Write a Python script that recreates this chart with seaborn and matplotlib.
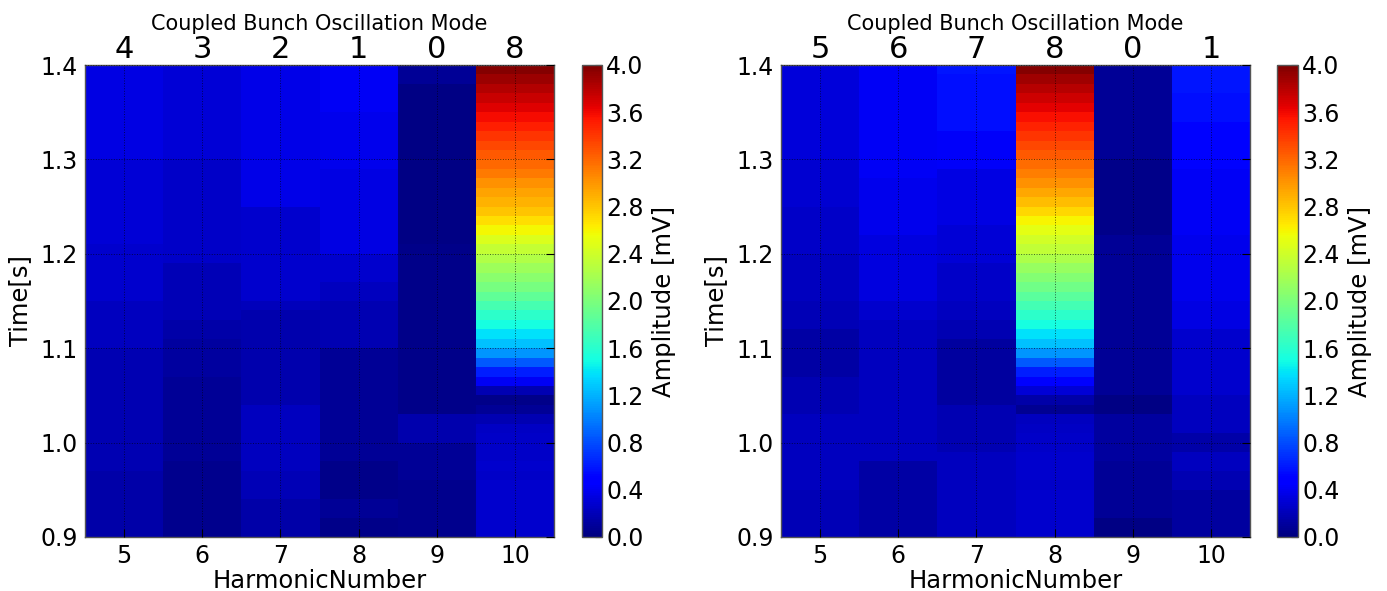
import numpy as np
import pandas as pd
import matplotlib
matplotlib.use("Agg")
import matplotlib.pyplot as plt
import seaborn as sns

# ---------------- data ----------------
# start time of each row [s]
times = [0.90, 0.91, 0.92, 0.93, 0.94, 0.95, 0.96, 0.97, 0.98, 0.99,
         1.00, 1.01, 1.02, 1.03, 1.04, 1.05, 1.06, 1.07, 1.08, 1.09,
         1.10, 1.11, 1.12, 1.13, 1.14, 1.15, 1.16, 1.17, 1.18, 1.19,
         1.20, 1.21, 1.22, 1.23, 1.24, 1.25, 1.26, 1.27, 1.28, 1.29,
         1.30, 1.31, 1.32, 1.33, 1.34, 1.35, 1.36, 1.37, 1.38, 1.39]
harmonics = [5, 6, 7, 8, 9, 10]
modes_left = ["4", "3", "2", "1", "0", "8"]
modes_right = ["5", "6", "7", "8", "0", "1"]
ytick_values = [0.9, 1.0, 1.1, 1.2, 1.3, 1.4]
ytick_labels = ["0.9", "1.0", "1.1", "1.2", "1.3", "1.4"]
cbar_ticks = [0.0, 0.4, 0.8, 1.2, 1.6, 2.0, 2.4, 2.8, 3.2, 3.6, 4.0]

# left panel amplitudes [mV], bottom (0.90 s) to top (1.39 s)
left_h5 = [0.15, 0.15, 0.15, 0.15, 0.15, 0.15, 0.15, 0.18, 0.18, 0.18,
           0.18, 0.18, 0.18, 0.18, 0.18, 0.18, 0.18, 0.18, 0.18, 0.18,
           0.22, 0.22, 0.22, 0.22, 0.22, 0.27, 0.27, 0.27, 0.27, 0.27,
           0.27, 0.30, 0.30, 0.30, 0.30, 0.30, 0.30, 0.30, 0.30, 0.30,
           0.35, 0.35, 0.35, 0.35, 0.35, 0.35, 0.35, 0.35, 0.35, 0.35]
left_h6 = [0.06, 0.06, 0.06, 0.06, 0.06, 0.06, 0.06, 0.06, 0.08, 0.08,
           0.08, 0.08, 0.08, 0.08, 0.08, 0.08, 0.08, 0.11, 0.11, 0.11,
           0.11, 0.15, 0.15, 0.20, 0.20, 0.20, 0.20, 0.20, 0.20, 0.25,
           0.25, 0.25, 0.25, 0.25, 0.25, 0.25, 0.25, 0.25, 0.25, 0.25,
           0.30, 0.30, 0.30, 0.30, 0.30, 0.30, 0.30, 0.30, 0.30, 0.30]
left_h7 = [0.15, 0.15, 0.15, 0.15, 0.20, 0.20, 0.20, 0.22, 0.22, 0.22,
           0.22, 0.22, 0.22, 0.22, 0.17, 0.17, 0.17, 0.17, 0.17, 0.17,
           0.17, 0.17, 0.17, 0.17, 0.21, 0.27, 0.27, 0.27, 0.27, 0.27,
           0.27, 0.27, 0.27, 0.27, 0.27, 0.36, 0.36, 0.36, 0.36, 0.36,
           0.36, 0.36, 0.36, 0.36, 0.36, 0.36, 0.36, 0.36, 0.36, 0.36]
left_h8 = [0.045, 0.045, 0.08, 0.08, 0.045, 0.045, 0.045, 0.045, 0.08, 0.08,
           0.08, 0.08, 0.08, 0.08, 0.08, 0.08, 0.08, 0.08, 0.08, 0.08,
           0.18, 0.18, 0.18, 0.18, 0.18, 0.23, 0.23, 0.28, 0.28, 0.28,
           0.35, 0.35, 0.35, 0.35, 0.35, 0.35, 0.35, 0.35, 0.35, 0.39,
           0.39, 0.39, 0.39, 0.39, 0.39, 0.42, 0.42, 0.42, 0.42, 0.42]
left_h9 = [0.06, 0.06, 0.06, 0.06, 0.06, 0.06, 0.08, 0.08, 0.08, 0.08,
           0.165, 0.165, 0.165, 0.045, 0.045, 0.045, 0.045, 0.045, 0.045, 0.045,
           0.045, 0.045, 0.045, 0.045, 0.045, 0.045, 0.045, 0.045, 0.045, 0.045,
           0.045, 0.03, 0.03, 0.03, 0.03, 0.03, 0.03, 0.03, 0.03, 0.03,
           0.03, 0.03, 0.03, 0.03, 0.03, 0.03, 0.03, 0.03, 0.08, 0.08]
left_h10 = [0.27, 0.27, 0.27, 0.28, 0.27, 0.27, 0.26, 0.27, 0.26, 0.25,
            0.25, 0.24, 0.18, 0.08, 0.04, 0.18, 0.42, 0.62, 0.85, 1.08,
            1.25, 1.38, 1.50, 1.62, 1.74, 1.86, 1.97, 2.07, 2.17, 2.26,
            2.35, 2.46, 2.58, 2.70, 2.80, 2.88, 2.95, 3.03, 3.11, 3.19,
            3.26, 3.33, 3.42, 3.50, 3.58, 3.66, 3.74, 3.82, 3.90, 3.98]

# right panel amplitudes [mV]
right_h5 = [0.20, 0.20, 0.20, 0.20, 0.20, 0.22, 0.22, 0.22, 0.22, 0.22,
            0.22, 0.22, 0.22, 0.18, 0.18, 0.18, 0.18, 0.13, 0.13, 0.13,
            0.13, 0.13, 0.20, 0.20, 0.20, 0.22, 0.22, 0.22, 0.22, 0.22,
            0.25, 0.25, 0.25, 0.25, 0.25, 0.285, 0.285, 0.285, 0.285, 0.285,
            0.32, 0.32, 0.32, 0.32, 0.32, 0.32, 0.32, 0.32, 0.32, 0.32]
right_h6 = [0.13, 0.13, 0.13, 0.13, 0.13, 0.13, 0.13, 0.13, 0.22, 0.22,
            0.22, 0.22, 0.22, 0.22, 0.22, 0.22, 0.22, 0.22, 0.22, 0.22,
            0.22, 0.22, 0.22, 0.27, 0.27, 0.34, 0.34, 0.34, 0.34, 0.34,
            0.34, 0.34, 0.38, 0.38, 0.38, 0.38, 0.38, 0.38, 0.42, 0.42,
            0.42, 0.42, 0.42, 0.42, 0.42, 0.42, 0.42, 0.42, 0.42, 0.42]
right_h7 = [0.23, 0.23, 0.23, 0.23, 0.23, 0.23, 0.23, 0.23, 0.23, 0.18,
            0.18, 0.18, 0.18, 0.18, 0.11, 0.11, 0.11, 0.11, 0.11, 0.11,
            0.11, 0.18, 0.18, 0.22, 0.22, 0.25, 0.25, 0.25, 0.25, 0.30,
            0.30, 0.30, 0.30, 0.35, 0.35, 0.35, 0.35, 0.35, 0.35, 0.43,
            0.43, 0.43, 0.43, 0.55, 0.55, 0.55, 0.55, 0.55, 0.55, 0.58]
right_h8 = [0.27, 0.27, 0.28, 0.27, 0.27, 0.26, 0.27, 0.27, 0.27, 0.26,
            0.25, 0.24, 0.22, 0.07, 0.15, 0.30, 0.44, 0.62, 0.85, 1.08,
            1.25, 1.38, 1.50, 1.61, 1.72, 1.83, 1.94, 2.04, 2.14, 2.24,
            2.33, 2.42, 2.51, 2.60, 2.72, 2.83, 2.93, 3.02, 3.10, 3.18,
            3.26, 3.33, 3.41, 3.49, 3.57, 3.65, 3.73, 3.81, 3.89, 3.97]
right_h9 = [0.025, 0.025, 0.08, 0.08, 0.08, 0.08, 0.08, 0.08, 0.11, 0.11,
            0.11, 0.11, 0.11, 0.025, 0.025, 0.08, 0.08, 0.08, 0.08, 0.08,
            0.08, 0.08, 0.08, 0.08, 0.08, 0.08, 0.08, 0.08, 0.08, 0.08,
            0.08, 0.08, 0.045, 0.045, 0.045, 0.045, 0.045, 0.045, 0.045, 0.045,
            0.08, 0.08, 0.08, 0.08, 0.08, 0.08, 0.08, 0.08, 0.08, 0.08]
right_h10 = [0.11, 0.11, 0.11, 0.11, 0.11, 0.18, 0.18, 0.22, 0.22, 0.15,
             0.15, 0.22, 0.22, 0.22, 0.22, 0.27, 0.27, 0.27, 0.27, 0.27,
             0.27, 0.27, 0.35, 0.35, 0.35, 0.39, 0.39, 0.39, 0.39, 0.39,
             0.39, 0.39, 0.41, 0.41, 0.41, 0.41, 0.41, 0.41, 0.41, 0.50,
             0.50, 0.50, 0.50, 0.50, 0.56, 0.56, 0.56, 0.58, 0.58, 0.58]

left_df = pd.DataFrame({5: left_h5, 6: left_h6, 7: left_h7, 8: left_h8,
                        9: left_h9, 10: left_h10}, index=times)[harmonics]
right_df = pd.DataFrame({5: right_h5, 6: right_h6, 7: right_h7, 8: right_h8,
                         9: right_h9, 10: right_h10}, index=times)[harmonics]

# ---------------- style ----------------
sns.set_style("white")
plt.rcParams["font.family"] = ["DejaVu Sans"]
for key in ["text.color", "axes.labelcolor", "xtick.color", "ytick.color"]:
    plt.rcParams[key] = "black"

W, H = 1387, 591
fig = plt.figure(figsize=(W / 100, H / 100), dpi=100)


def fx(px):
    return px / W


def fy(py_top, py_bot):
    return (H - py_bot) / H, (py_bot - py_top) / H


b, h = fy(65, 537)
panels = [
    (left_df, modes_left, [fx(85), b, fx(469), h], [fx(582), b, fx(20), h]),
    (right_df, modes_right, [fx(781), b, fx(469), h], [fx(1277), b, fx(21), h]),
]

dt = times[1] - times[0]
for df, modes, axpos, cpos in panels:
    ax = fig.add_axes(axpos)
    cax = fig.add_axes(cpos)
    sns.heatmap(df, ax=ax, cbar_ax=cax, cmap="jet", vmin=0, vmax=4,
                xticklabels=False, yticklabels=False,
                cbar_kws={"ticks": cbar_ticks})
    nrows = len(df.index)
    ax.set_ylim(0, nrows)  # early times at bottom
    ax.set_xlim(0, len(harmonics))

    xpos = [i + 0.5 for i in range(len(harmonics))]
    ypos = [(v - times[0]) / dt for v in ytick_values]
    ax.set_xticks(xpos)
    ax.set_xticklabels([str(hn) for hn in harmonics], fontsize=17)
    ax.set_yticks(ypos)
    ax.set_yticklabels(ytick_labels, fontsize=17)
    ax.tick_params(axis="both", direction="in", length=6, width=0.8,
                   color="black", top=False, right=True, pad=5)
    ax.set_xlabel("HarmonicNumber", fontsize=17.5, labelpad=1)
    ax.set_ylabel("Time[s]", fontsize=17.5, labelpad=6)

    ax.set_axisbelow(False)
    ax.grid(True, linestyle=":", color="black", linewidth=0.7, alpha=0.6)
    for s in ax.spines.values():
        s.set_visible(True)
        s.set_color("#555555")
        s.set_linewidth(1.0)

    top = ax.twiny()
    top.set_xlim(ax.get_xlim())
    top.set_xticks(xpos)
    top.set_xticklabels(modes, fontsize=22)
    top.tick_params(axis="x", length=0, pad=1)
    top.set_xlabel("Coupled Bunch Oscillation Mode", fontsize=15, labelpad=3)
    for s in top.spines.values():
        s.set_visible(False)

    cbar = ax.collections[0].colorbar
    cbar.outline.set_visible(True)
    cbar.outline.set_linewidth(1.0)
    cbar.outline.set_edgecolor("#555555")
    cax.tick_params(direction="in", length=5, width=0.8, labelsize=17, pad=3)
    cax.set_yticklabels([f"{t:.1f}" for t in cbar_ticks])
    cbar.set_label("Amplitude [mV]", fontsize=17.5, labelpad=6)

fig.savefig("out.png", dpi=100)
